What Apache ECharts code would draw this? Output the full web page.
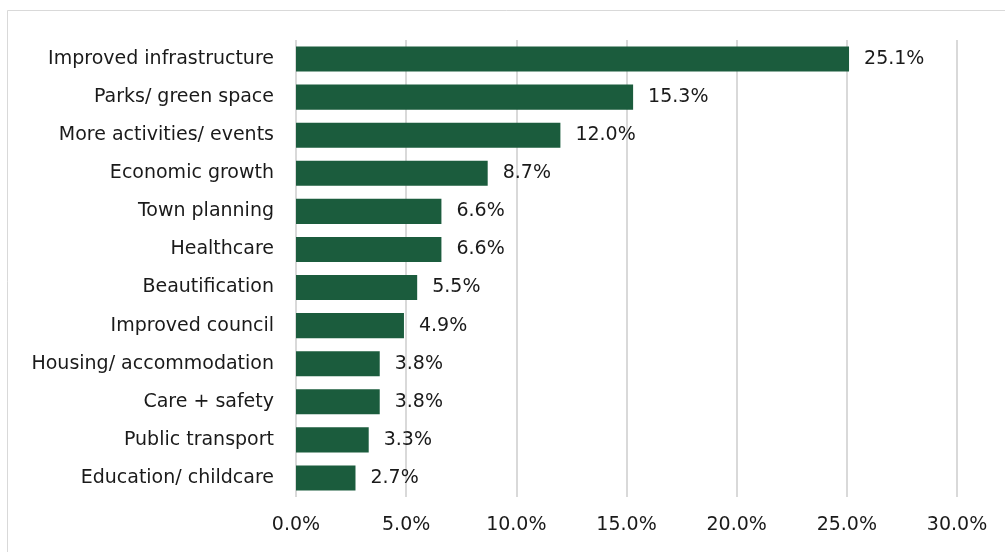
<!DOCTYPE html>
<html>
<head>
<meta charset="utf-8">
<script src="https://cdn.jsdelivr.net/npm/echarts@6/dist/echarts.min.js"></script>
<style>
  html, body { margin: 0; padding: 0; background: #ffffff; }
  #chart { width: 1005px; height: 552px; }
</style>
</head>
<body>
<div id="chart"></div>
<script>
// Categories listed top to bottom
const categories = [
  'Improved infrastructure',
  'Parks/ green space',
  'More activities/ events',
  'Economic growth',
  'Town planning',
  'Healthcare',
  'Beautification',
  'Improved council',
  'Housing/ accommodation',
  'Care + safety',
  'Public transport',
  'Education/ childcare'
];
// Share of responses (%)
const shares = [25.1, 15.3, 12.0, 8.7, 6.6, 6.6, 5.5, 4.9, 3.8, 3.8, 3.3, 2.7];
// Value axis range and step (%)
const axisMin = 0;
const axisMax = 30;
const axisStep = 5;

const FONT = '"DejaVu Sans", "Liberation Sans", Arial, sans-serif';
const FONT_SIZE = 19;
const TEXT_COLOR = '#1a1a1a';
const chart = echarts.init(document.getElementById('chart'), null, { renderer: 'canvas' });

chart.setOption({
  animation: false,
  backgroundColor: '#ffffff',
  graphic: [{
    type: 'rect',
    shape: { x: 7.5, y: 10.5, width: 1100, height: 600 },
    style: { fill: 'none', stroke: '#d9d9d9', lineWidth: 1 },
    silent: true
  }],
  grid: { left: 296, right: 48, top: 40, bottom: 55, containLabel: false },
  xAxis: {
    type: 'value',
    min: axisMin,
    max: axisMax,
    interval: axisStep,
    axisLine: { show: false },
    axisTick: { show: false },
    splitLine: { show: true, lineStyle: { color: '#d9d9d9', width: 2 } },
    axisLabel: {
      margin: 19,
      color: TEXT_COLOR,
      fontFamily: FONT,
      fontSize: FONT_SIZE,
      formatter: v => v.toFixed(1) + '%'
    }
  },
  yAxis: {
    type: 'category',
    data: categories,
    inverse: true,
    axisLine: { show: false },
    axisTick: { show: false },
    splitLine: { show: false },
    axisLabel: {
      margin: 22,
      color: TEXT_COLOR,
      fontFamily: FONT,
      fontSize: FONT_SIZE
    }
  },
  series: [{
    type: 'bar',
    data: shares,
    barCategoryGap: '34%',
    itemStyle: { color: '#1b5c3d' },
    label: {
      show: true,
      position: 'right',
      distance: 15,
      color: TEXT_COLOR,
      fontFamily: FONT,
      fontSize: FONT_SIZE,
      formatter: p => p.value.toFixed(1) + '%'
    }
  }]
});
</script>
</body>
</html>
